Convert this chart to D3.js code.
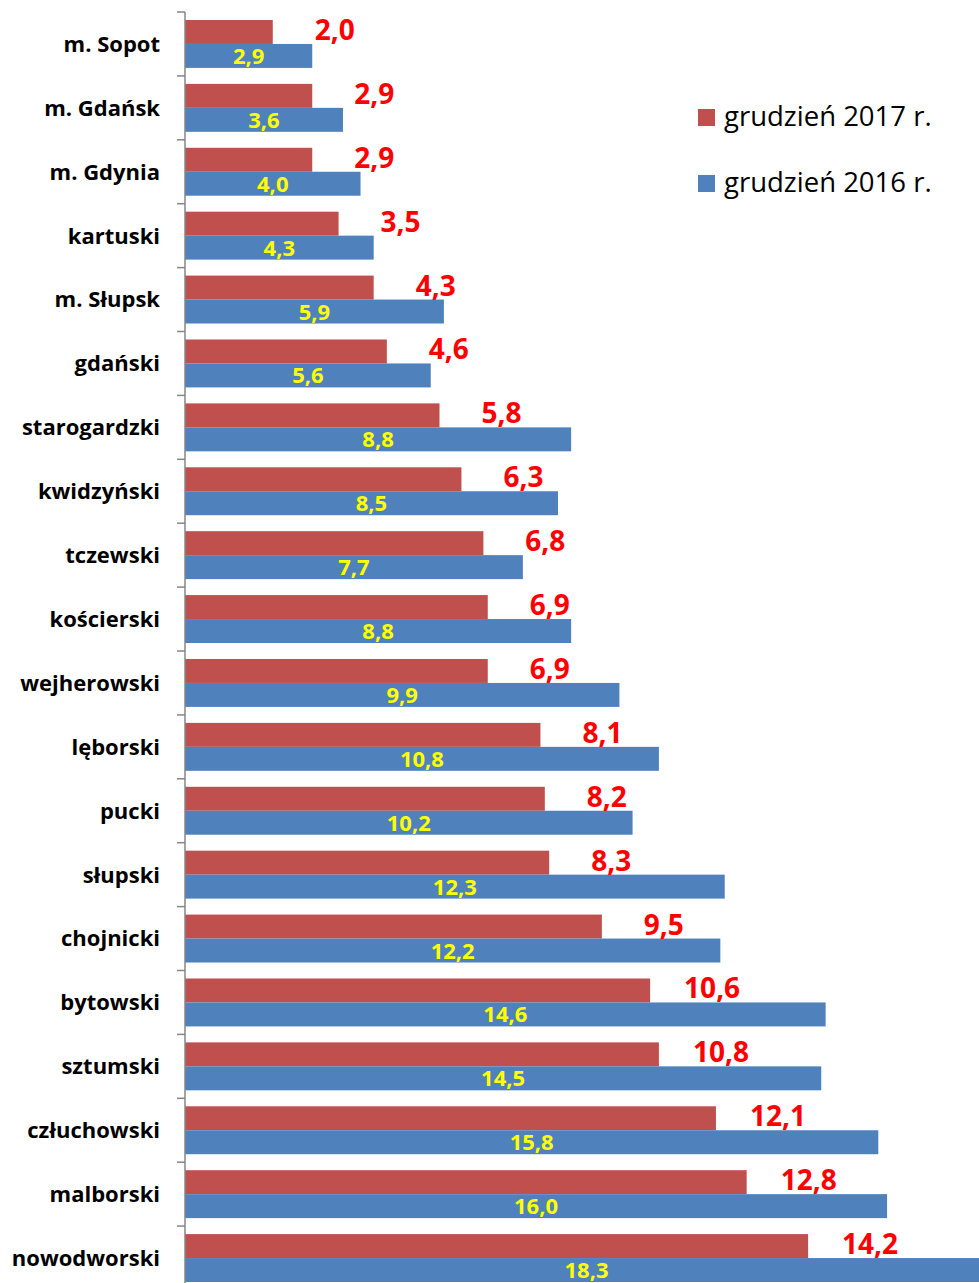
<!DOCTYPE html>
<html>
<head>
<meta charset="utf-8">
<script src="https://cdn.jsdelivr.net/npm/d3@7"></script>
<style>
  html, body { margin: 0; padding: 0; background: #fff; }
  svg { display: block; }
</style>
</head>
<body>
<svg id="chart" width="979" height="1283"></svg>
<script>
const categories = ["m. Sopot","m. Gdańsk","m. Gdynia","kartuski","m. Słupsk","gdański","starogardzki","kwidzyński","tczewski","kościerski","wejherowski","lęborski","pucki","słupski","chojnicki","bytowski","sztumski","człuchowski","malborski","nowodworski"];
const values2017 = [2.0,2.9,2.9,3.5,4.3,4.6,5.8,6.3,6.8,6.9,6.9,8.1,8.2,8.3,9.5,10.6,10.8,12.1,12.8,14.2];
const values2016 = [2.9,3.6,4.0,4.3,5.9,5.6,8.8,8.5,7.7,8.8,9.9,10.8,10.2,12.3,12.2,14.6,14.5,15.8,16.0,18.3];
const seriesNames = ["grudzień 2017 r.","grudzień 2016 r."];
const seriesColors = ["#C0504D","#4F81BD"];

const fmt = v => v.toFixed(1).replace(".", ",");
const svg = d3.select("#chart");
const FONT = "'Open Sans', 'DejaVu Sans', sans-serif";

const x = d3.scaleLinear().domain([0, d3.max(values2016)]).range([185, 988]);
const y0 = d3.scaleBand().domain(categories).range([12, 1290]).paddingInner(0.25).paddingOuter(0.125);
const y1 = d3.scaleBand().domain([0, 1]).range([0, y0.bandwidth()]);
const step = y0.step();

const rows = categories.map((c, i) => ({cat: c, vals: [values2017[i], values2016[i]]}));

// bars
const g = svg.append("g");
rows.forEach(r => {
  r.vals.forEach((v, s) => {
    g.append("rect")
      .attr("x", x(0))
      .attr("y", y0(r.cat) + y1(s))
      .attr("width", x(v) - x(0))
      .attr("height", y1.bandwidth())
      .attr("fill", seriesColors[s]);
  });
});

// axis line and ticks
const axisG = svg.append("g");
axisG.append("line")
  .attr("x1", x(0)).attr("x2", x(0))
  .attr("y1", y0(categories[0]) - step * 0.125).attr("y2", 1283)
  .attr("stroke", "#868686").attr("stroke-width", 1.5);
categories.forEach(c => {
  const ty = y0(c) - step * 0.125;
  axisG.append("line")
    .attr("x1", x(0) - 8).attr("x2", x(0))
    .attr("y1", ty).attr("y2", ty)
    .attr("stroke", "#868686").attr("stroke-width", 1.5);
});

// category labels
svg.append("g").selectAll("text").data(categories).join("text")
  .attr("x", 160)
  .attr("y", d => y0(d) + y0.bandwidth() / 2)
  .attr("dy", "0.36em")
  .attr("text-anchor", "end")
  .attr("font-family", FONT)
  .attr("font-weight", "bold")
  .attr("font-size", 22)
  .attr("fill", "#000")
  .text(d => d);

// red labels (2017)
svg.append("g").selectAll("text").data(rows).join("text")
  .attr("x", d => x(d.vals[0]) + 62)
  .attr("y", d => y0(d.cat) + y1(0) + y1.bandwidth() / 2 + 8)
  .attr("text-anchor", "middle")
  .attr("font-family", FONT)
  .attr("font-weight", "bold")
  .attr("font-size", 28)
  .attr("fill", "#FF0000")
  .text(d => fmt(d.vals[0]));

// yellow labels (2016)
svg.append("g").selectAll("text").data(rows).join("text")
  .attr("x", d => (x(0) + x(d.vals[1])) / 2)
  .attr("y", d => y0(d.cat) + y1(1) + y1.bandwidth() / 2 + 8)
  .attr("text-anchor", "middle")
  .attr("font-family", FONT)
  .attr("font-weight", "bold")
  .attr("font-size", 22)
  .attr("fill", "#FFFF00")
  .text(d => fmt(d.vals[1]));

// legend
const leg = svg.append("g");
seriesNames.forEach((n, i) => {
  const ly = 109 + i * 66;
  leg.append("rect").attr("x", 698).attr("y", ly).attr("width", 17).attr("height", 17).attr("fill", seriesColors[i]);
  leg.append("text")
    .attr("x", 724).attr("y", ly + 16.5)
    .attr("font-family", FONT)
    .attr("font-size", 27.5)
    .attr("fill", "#000")
    .text(n);
});
</script>
</body>
</html>
